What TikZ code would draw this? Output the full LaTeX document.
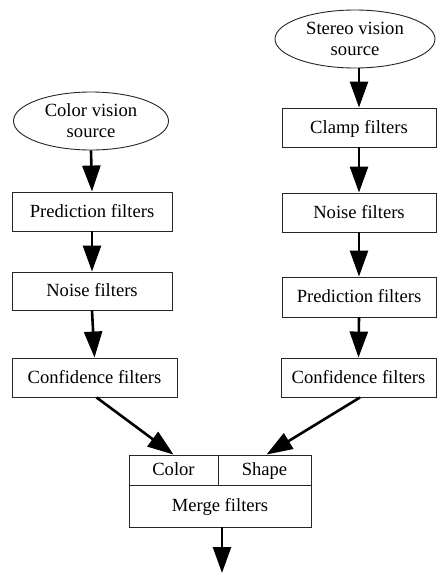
\documentclass[tikz,border=0pt]{standalone}
\usepackage{fontspec}
\setmainfont{Liberation Serif}
\usetikzlibrary{arrows.meta,shapes.geometric}
\begin{document}
\begin{tikzpicture}[x=1pt,y=1pt,
  every node/.style={font=\fontsize{18.6}{22}\selectfont, inner sep=0pt, text=black},
  box/.style={draw=black!85, line width=0.9pt, rectangle, minimum height=39pt, text height=12pt, text depth=0.5pt},
  src/.style={draw=black!85, line width=0.9pt, ellipse, align=center},
  flow/.style={line width=2.6pt, -{Triangle[length=26pt,width=18pt]}}
]
\useasboundingbox[fill=white] (0,0) rectangle (437,-574);
% left column
\node[src, minimum width=155pt, minimum height=58pt] (cvs) at (91,-121) {Color vision\\[-1pt]source};
\node[box, minimum width=160pt] (lpred) at (92,-211.5) {Prediction filters};
\node[box, minimum width=160pt, minimum height=38pt] (lnoise) at (92,-291) {Noise filters};
\node[box, minimum width=165pt] (lconf) at (94.5,-377.5) {Confidence filters};
% right column
\node[src, minimum width=160pt, minimum height=58pt] (svs) at (355,-39) {Stereo vision\\[-1pt]source};
\node[box, minimum width=154pt] (clamp) at (359,-127.5) {Clamp filters};
\node[box, minimum width=154pt] (rnoise) at (359,-212.5) {Noise filters};
\node[box, minimum width=154pt, minimum height=40pt] (rpred) at (359,-297) {Prediction filters};
\node[box, minimum width=155pt] (rconf) at (358.5,-377.5) {Confidence filters};
% merge block
\node[box, minimum width=89pt, minimum height=30pt] (color) at (173.5,-470) {Color};
\node[box, minimum width=93pt, minimum height=30pt] (shape) at (264.5,-470) {Shape};
\node[box, minimum width=182pt, minimum height=42pt] (merge) at (220,-506) {Merge filters};
\coordinate (out) at (222,-573);
% connectors
\draw[flow] (cvs.south) -- (lpred.north);
\draw[flow] (lpred.south) -- (lnoise.north);
\draw[flow] (lnoise.south) -- (lconf.north);
\draw[flow] ([xshift=2pt]lconf.south) -- (color.north);
\draw[flow] (clamp.north |- svs.south) -- (clamp.north);
\draw[flow] (clamp.south) -- (rnoise.north);
\draw[flow] (rnoise.south) -- (rpred.north);
\draw[flow] (rpred.south) -- (rconf.north);
\draw[flow] ([xshift=1.5pt]rconf.south) -- ([xshift=2pt]shape.north);
\draw[flow] ([xshift=2pt]merge.south) -- (out);
\end{tikzpicture}
\end{document}
